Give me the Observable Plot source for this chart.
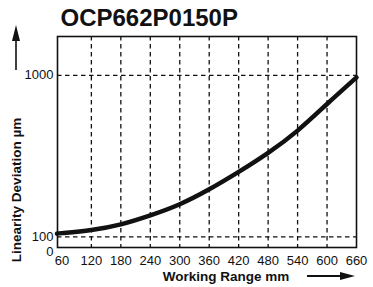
<!DOCTYPE html>
<html>
<head>
<meta charset="utf-8">
<script src="https://cdn.jsdelivr.net/npm/d3@7"></script>
<script src="https://cdn.jsdelivr.net/npm/@observablehq/plot@0.6"></script>
<style>
  html, body { margin: 0; padding: 0; background: #fff; }
  svg { display: block; }
</style>
</head>
<body>
<div id="chart"></div>
<script>
const title = "OCP662P0150P";
const xLabel = "Working Range mm";
const yLabel = "Linearity Deviation µm";
const rangeMm = [51, 60, 120, 180, 240, 300, 360, 420, 480, 540, 600, 660];
const deviationUm = [118, 121, 139, 170, 220, 282, 365, 462, 568, 692, 840, 988];
const xTicks = [60, 120, 180, 240, 300, 360, 420, 480, 540, 600, 660];
const xGrid = [120, 180, 240, 300, 360, 420, 480, 540, 600];
const yTicks = [100, 1000];
const xDomain = [51, 660];
const yDomain = [41, 1216];

const W = 373, H = 287, ML = 57, MR = 17, MT = 36, MB = 40;
const font = "'Liberation Sans', Arial, Helvetica, sans-serif";
const data = rangeMm.map((x, i) => ({x, y: deviationUm[i]}));

function arrows() {
  const ns = "http://www.w3.org/2000/svg";
  const g = document.createElementNS(ns, "g");
  const mk = (tag, attrs) => { const e = document.createElementNS(ns, tag); for (const k in attrs) e.setAttribute(k, attrs[k]); g.appendChild(e); };
  const ax = ML - 41, bottomY = MT + 34, tipY = MT - 11;
  mk("path", {d: `M${ax},${tipY} L${ax + 4},${tipY + 16} L${ax + 0.8},${tipY + 16} L${ax + 0.8},${bottomY} L${ax - 0.8},${bottomY} L${ax - 0.8},${tipY + 16} L${ax - 4},${tipY + 16} Z`, fill: "#111"});
  const ry = H - MB + 29, rx2 = W - MR - 1, rx1 = rx2 - 48;
  mk("rect", {x: rx1 - 7, y: ry - 10, width: 60, height: 16, fill: "#fff"});
  mk("path", {d: `M${rx2},${ry} L${rx2 - 15},${ry - 4} L${rx2 - 15},${ry - 0.9} L${rx1},${ry - 0.9} L${rx1},${ry + 0.9} L${rx2 - 15},${ry + 0.9} L${rx2 - 15},${ry + 4} Z`, fill: "#111"});
  return g;
}

const chart = Plot.plot({
  width: W,
  height: H,
  marginLeft: ML,
  marginRight: MR,
  marginTop: MT,
  marginBottom: MB,
  style: {fontFamily: font, fontSize: "13px", color: "#111", background: "#fff"},
  x: {domain: xDomain, axis: null},
  y: {domain: yDomain, axis: null},
  marks: [
    Plot.gridX(xGrid, {stroke: "#111", strokeOpacity: 1, strokeWidth: 1.3, strokeDasharray: "4.5,3.5"}),
    Plot.gridY(yTicks, {stroke: "#111", strokeOpacity: 1, strokeWidth: 1.3, strokeDasharray: "4.5,3.5"}),
    Plot.frame({stroke: "#111", strokeWidth: 1.6}),
    Plot.line(data, {x: "x", y: "y", stroke: "#111", strokeWidth: 4.5, curve: "natural"}),
    Plot.axisX(xTicks, {tickSize: 0, tickPadding: 8, fontSize: 13, fill: "#111", label: null, tickFormat: d => String(d)}),
    Plot.axisY(yTicks, {tickSize: 0, tickPadding: 4, fontSize: 13, fill: "#111", label: null, tickFormat: d => String(d)}),
    Plot.axisY([yDomain[0]], {tickSize: 0, tickPadding: 4, fontSize: 13, fill: "#111", label: null, tickFormat: () => "0", dy: 4}),
    Plot.text([title], {frameAnchor: "top-left", textAnchor: "start", lineAnchor: "bottom", dx: 3, dy: -11, fontSize: 24, fontWeight: "bold", fill: "#111"}),
    Plot.text([xLabel], {frameAnchor: "bottom", textAnchor: "middle", lineAnchor: "bottom", dx: 19, dy: 33, fontSize: 13.5, fontWeight: "bold", fill: "#111"}),
    Plot.text([yLabel], {frameAnchor: "left", textAnchor: "middle", lineAnchor: "middle", rotate: -90, dx: -41, dy: 48, fontSize: 13.5, fontWeight: "bold", fill: "#111"}),
    arrows
  ]
});

document.getElementById("chart").appendChild(chart);
</script>
</body>
</html>
